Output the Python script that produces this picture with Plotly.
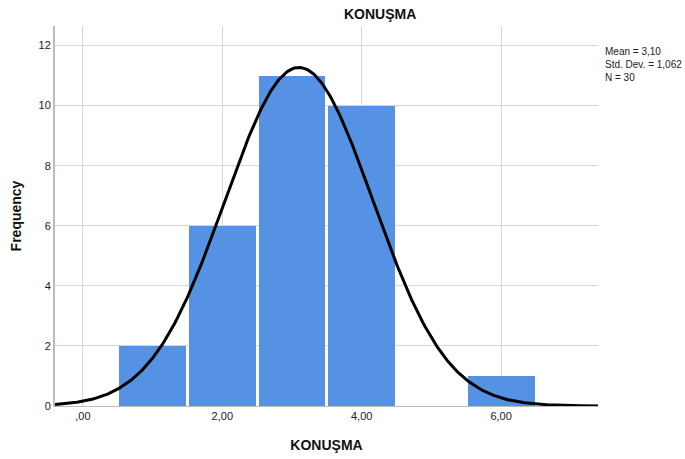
import numpy as np
import plotly.graph_objects as go

# Data
bin_centers = [1, 2, 3, 4, 6]
frequencies = [2, 6, 11, 10, 1]
x_tick_vals = [0, 2, 4, 6]
x_tick_labels = [",00", "2,00", "4,00", "6,00"]
y_tick_vals = [0, 2, 4, 6, 8, 10, 12]
mean_val = 3.10
sd_val = 1.062
n_val = 30
bin_width = 1.0

xs = np.linspace(-0.4, 7.39, 400)
ys = n_val * bin_width / (sd_val * np.sqrt(2 * np.pi)) * np.exp(-0.5 * ((xs - mean_val) / sd_val) ** 2)

fig = go.Figure()
fig.add_trace(go.Bar(
    x=bin_centers, y=frequencies, width=0.96 * bin_width,
    marker=dict(color="#5592E3", line=dict(width=0)),
    showlegend=False, hoverinfo="skip"))
fig.add_trace(go.Scatter(
    x=xs, y=ys, mode="lines", line=dict(color="black", width=3),
    showlegend=False, hoverinfo="skip"))

L, R, T, B = 55, 87, 26, 53
pw = 685 - L - R
ph = 459 - T - B

fig.update_layout(
    width=685, height=459,
    margin=dict(l=L, r=R, t=T, b=B),
    paper_bgcolor="white", plot_bgcolor="white",
    font=dict(family="Liberation Sans, Arial, sans-serif", color="#222"),
    bargap=0,
    xaxis=dict(range=[-0.4, 7.39], tickvals=x_tick_vals, ticktext=x_tick_labels,
               automargin=False,
               showgrid=True, gridcolor="#d6d6d6", gridwidth=1,
               zeroline=False, showline=True, linecolor="#bcbcbc", linewidth=1,
               ticks="", tickfont=dict(size=11, color="#222"),
               title=dict(text="<b>KONUŞMA</b>", font=dict(size=14, color="#111"), standoff=18)),
    yaxis=dict(range=[0, 12.65], tickvals=y_tick_vals,
               automargin=False,
               showgrid=True, gridcolor="#d6d6d6", gridwidth=1,
               zeroline=False, showline=True, linecolor="#bcbcbc", linewidth=2,
               ticks="", tickfont=dict(size=11, color="#222"),
               title=dict(text="<b>Frequency</b>", font=dict(size=14, color="#111"), standoff=14)),
    annotations=[
        dict(text="<b>KONUŞMA</b>", x=(380 - L) / pw, y=(459 - B - 14) / ph,
             xref="paper", yref="paper", xanchor="center", yanchor="middle",
             showarrow=False, font=dict(size=14, color="#111")),
        dict(text="Mean = 3,10<br>Std. Dev. = 1,062<br>N = 30",
             xref="paper", yref="paper", x=1.01, y=1 - (44 - T) / ph, xanchor="left", yanchor="top",
             align="left", showarrow=False, font=dict(size=10, color="#222")),
    ],
)
fig.write_html("out.html")
